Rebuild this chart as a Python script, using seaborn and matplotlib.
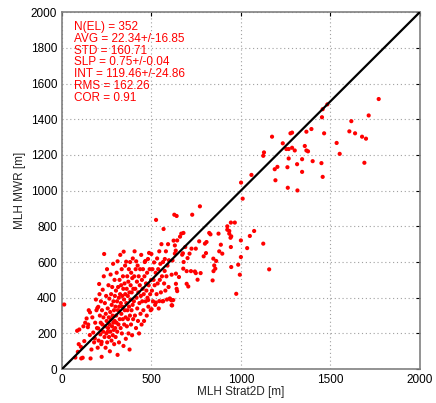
import matplotlib
matplotlib.use("Agg")
import matplotlib.pyplot as plt
import seaborn as sns
import pandas as pd

# MLH Strat2D [m] (x) and MLH MWR [m] (y)
strat2d = [
    13, 75, 85, 89, 94, 97,
    106, 108, 116, 120, 125, 130, 138, 145, 147, 150, 156, 157, 160, 165, 170, 175, 180, 184, 186, 190, 193, 196, 198, 200,
    203, 203, 205, 208, 210, 212, 215, 217, 218, 220, 222, 222, 224, 226, 228, 230, 232, 234, 236, 238, 240, 242, 244, 245,
    247, 248, 250, 252, 253, 255, 256, 258, 260, 262, 263, 265, 266, 268, 270, 271, 272, 274, 275, 277, 278, 280, 281, 283,
    284, 286, 287, 288, 290, 291, 292, 294, 295, 296, 298, 299,
    300, 302, 303, 305, 306, 308, 309, 311, 311, 313, 314, 316, 318, 319, 320, 322, 323, 325, 326, 328, 329, 331, 332, 334,
    335, 337, 338, 340, 341, 343, 344, 345, 347, 348, 350, 351, 353, 354, 356, 357, 359, 360, 362, 363, 365, 366, 368, 369,
    371, 372, 374, 375, 377, 378, 380, 381, 383, 384, 386, 387, 389, 390, 392, 393, 395, 396, 398, 399,
    402, 404, 406, 408, 410, 412, 414, 415, 417, 419, 421, 423, 425, 427, 429, 431, 433, 435, 437, 439, 441, 443, 445, 447,
    449, 451, 453, 455, 457, 459, 461, 463, 466, 468, 470, 472, 474, 476, 478, 481, 483, 485, 487, 490, 493, 496, 498,
    500, 503, 506, 509, 512, 515, 518, 521, 524, 526, 529, 532, 535, 538, 541, 544, 547, 550, 553, 556, 559, 562, 565, 568,
    571, 574, 575, 578, 581, 584, 587, 590, 593, 596, 598,
    482, 501, 525, 544, 566, 603, 613, 622,
    609, 613, 616, 613, 618, 624, 628, 631, 631, 636, 637, 637, 641, 641, 644, 644, 654, 660, 667, 672, 676, 678, 679, 680,
    689, 697, 697, 702, 706, 713, 721, 724, 728, 743, 748, 748, 758, 767, 771, 775, 792, 799, 805, 808, 823, 830, 842, 846,
    847, 851, 857, 862, 875, 879, 888, 896, 924, 924, 935, 935, 942, 944, 944, 946, 946, 966, 974, 985, 994, 1000, 1000,
    1035, 1050, 1074, 1125, 1158,
    1770, 1714, 1617, 1606, 1638, 1677, 1699, 1535, 1552, 1690, 1453, 1457, 1483, 1465, 1394, 1366, 1277, 1286, 1174, 1234,
    1254, 1267, 1286, 1301, 1357, 1366, 1375, 1129, 1125, 1267, 1342, 1314, 1401, 1450, 1204, 1189, 1260, 1342, 1059, 1193,
    1457, 1001, 1262, 1316, 1010,
]
mwr = [
    362, 65, 215, 97, 140, 222,
    125, 60, 64, 240, 157, 260, 284, 235, 250, 330, 191, 318, 60, 110, 290, 205, 150, 172, 260, 390, 330, 230, 342, 120,
    349, 228, 160, 477, 420, 300, 195, 260, 380, 140, 69, 153, 330, 250, 445, 210, 290, 520, 645, 180, 370, 240, 120, 310,
    410, 200, 270, 560, 150, 209, 340, 230, 470, 290, 180, 395, 250, 100, 320, 210, 530, 280, 420, 160, 360, 240, 460, 300,
    190, 590, 260, 380, 220, 330, 140, 500, 270, 410, 230, 350,
    180, 440, 300, 260, 540, 380, 210, 604, 80, 330, 460, 250, 400, 150, 350, 500, 280, 420, 640, 230, 370, 470, 310, 560,
    200, 410, 350, 280, 520, 450, 130, 658, 390, 250, 480, 330, 580, 420, 290, 170, 602, 370, 450, 240, 520, 330, 410, 280,
    490, 200, 560, 350, 430, 110, 300, 600, 390, 470, 250, 540, 330, 430, 190, 510, 360, 620, 280, 450,
    380, 520, 660, 300, 450, 560, 230, 604, 400, 490, 340, 580, 270, 430, 520, 200, 370, 470, 560, 310, 410, 640, 250, 500,
    380, 450, 560, 330, 420, 270, 520, 600, 606, 380, 480, 440, 300, 540, 400, 617, 350, 470, 651, 560, 420, 330, 500,
    645, 440, 560, 380, 500, 598, 470, 360, 540, 836, 420, 620, 480, 560, 340, 660, 500, 590, 430, 700, 520, 380, 600, 785,
    480, 550, 617, 440, 660, 520, 390, 580, 700, 460, 610,
    387, 336, 373, 381, 381, 396, 358, 387,
    389, 385, 357, 529, 609, 720, 865, 693, 647, 664, 535, 478, 858, 450, 721, 437, 516, 742, 759, 641, 649, 563, 763, 600,
    684, 549, 478, 622, 463, 647, 549, 675, 865, 547, 538, 675, 501, 716, 912, 538, 632, 703, 650, 712, 763, 755, 497, 619,
    549, 581, 563, 606, 759, 660, 697, 647, 800, 781, 774, 759, 736, 821, 684, 744, 572, 821, 422, 585, 529, 721, 628,
    678, 746, 774, 703, 559,
    1513, 1421, 1389, 1332, 1321, 1302, 1291, 1267, 1206, 1156, 1411, 1456, 1483, 1321, 1345, 1330, 1321, 1325, 1302, 1265,
    1233, 1233, 1240, 1225, 1250, 1225, 1220, 1214, 1195, 1180, 1176, 1148, 1165, 1154, 1133, 1120, 1131, 1105, 1088, 1058,
    1077, 1045, 1016, 1001, 955,
]

stats_lines = [
    "N(EL) = 352",
    "AVG = 22.34+/-16.85",
    "STD = 160.71",
    "SLP = 0.75+/-0.04",
    "INT = 119.46+/-24.86",
    "RMS = 162.26",
    "COR = 0.91",
]
x_ticks = [0, 500, 1000, 1500, 2000]
y_ticks = [0, 200, 400, 600, 800, 1000, 1200, 1400, 1600, 1800, 2000]
diag = [0, 2000]

n = min(len(strat2d), len(mwr))
df = pd.DataFrame({"x": strat2d[:n], "y": mwr[:n]})

sns.set_style("white")
plt.rcParams["font.family"] = ["Liberation Sans", "DejaVu Sans"]

fig = plt.figure(figsize=(4.36, 4.03), dpi=100)
ax = fig.add_axes([0.142, 0.084, 0.821, 0.886])

sns.scatterplot(data=df, x="x", y="y", ax=ax, color="#ff0000", s=9,
                edgecolor="none", marker="o", zorder=3)
sns.lineplot(x=diag, y=diag, ax=ax, color="black", linewidth=1.6, zorder=4)

ax.set_xlim(0, 2000)
ax.set_ylim(0, 2000)
ax.set_xticks(x_ticks)
ax.set_yticks(y_ticks)
ax.grid(True, linestyle=(0, (1, 2.5)), color="#a0a0a0", linewidth=0.8)
ax.tick_params(direction="in", length=3, top=True, right=True, labelsize=8.5,
               colors="black", width=0.8)
for sp in ax.spines.values():
    sp.set_color("#808080")
    sp.set_linewidth(1.2)
    sp.set_visible(True)

ax.set_xlabel("MLH Strat2D [m]", fontsize=8.5, labelpad=0)
ax.set_ylabel("MLH MWR [m]", fontsize=8.5, labelpad=3)

ax.text(0.035, 0.975, "\n".join(stats_lines), transform=ax.transAxes,
        color="#ff0000", fontsize=8.5, va="top", ha="left", linespacing=0.98)

fig.savefig("out.png", dpi=100)
